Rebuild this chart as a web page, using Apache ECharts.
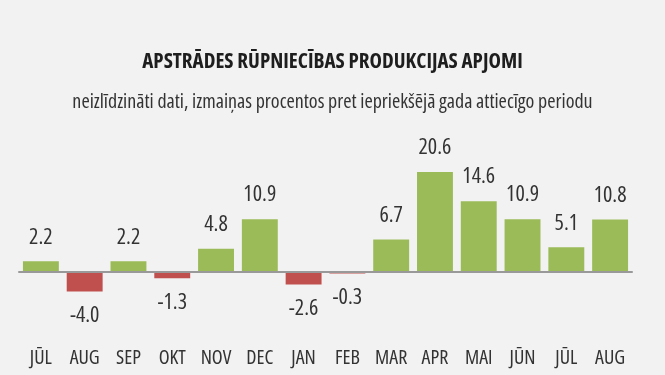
<!DOCTYPE html>
<html>
<head>
<meta charset="utf-8">
<script src="https://cdn.jsdelivr.net/npm/echarts@6/dist/echarts.min.js"></script>
<style>
html,body{margin:0;padding:0;background:#f2f2f2;}
#c{width:665px;height:375px;}
</style>
</head>
<body>
<div id="c"></div>
<script>
const categories = ['JŪL','AUG','SEP','OKT','NOV','DEC','JAN','FEB','MAR','APR','MAI','JŪN','JŪL','AUG'];
const values = [2.2, -4.0, 2.2, -1.3, 4.8, 10.9, -2.6, -0.3, 6.7, 20.6, 14.6, 10.9, 5.1, 10.8];
const titleText = 'APSTRĀDES RŪPNIECĪBAS PRODUKCIJAS APJOMI';
const subtitleText = 'neizlīdzināti dati, izmaiņas procentos pret iepriekšējā gada attiecīgo periodu';

const FONT = "'Open Sans','Noto Sans',sans-serif";
const STRETCH = 'condensed';
const GREEN = '#9bbb59', RED = '#c0504d';

const chart = echarts.init(document.getElementById('c'));
chart.setOption({
  backgroundColor: '#f2f2f2',
  animation: false,
  title: [{
    text: titleText,
    left: 'center',
    top: 47,
    textStyle: {fontFamily: FONT, fontStyle: STRETCH, fontSize: 21, fontWeight: 'bold', color: '#1e1e1e'}
  }, {
    text: subtitleText,
    left: 'center',
    top: 87,
    textStyle: {fontFamily: FONT, fontStyle: STRETCH, fontSize: 20, fontWeight: 'normal', color: '#333'}
  }],
  grid: {left: 19, right: 33, top: 126.5, bottom: 54.5, outerBoundsMode: 'none'},
  xAxis: {
    type: 'category',
    data: categories,
    z: 3,
    axisLine: {onZero: true, lineStyle: {color: '#999', width: 2}},
    axisTick: {show: false},
    axisLabel: {margin: 28, fontFamily: FONT, fontStyle: STRETCH, fontSize: 20, color: '#333', interval: 0}
  },
  yAxis: {
    type: 'value', min: -10, max: 30, show: false,
    splitLine: {show: false}
  },
  series: [{
    type: 'bar',
    barCategoryGap: '18%',
    data: values.map(v => ({
      value: v,
      itemStyle: {color: v >= 0 ? GREEN : RED},
      label: {position: v >= 0 ? 'top' : 'bottom'}
    })),
    label: {
      show: true,
      distance: 13,
      fontFamily: FONT,
      fontStyle: STRETCH,
      fontSize: 22,
      color: '#333',
      formatter: p => p.value.toFixed(1)
    }
  }]
});
</script>
</body>
</html>
